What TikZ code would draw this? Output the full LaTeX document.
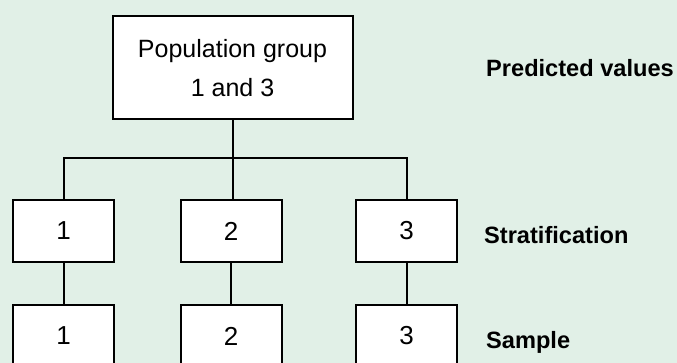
\documentclass[tikz,border=0pt]{standalone}
\usepackage{fontspec}
\setmainfont{Liberation Sans}
\definecolor{bg}{RGB}{225,240,231}
\begin{document}
\begin{tikzpicture}[x=1pt,y=-1pt,
  box/.style={draw=black, line width=2pt, fill=white, minimum width=101pt, minimum height=62pt, inner sep=0pt, font=\fontsize{26}{30}\selectfont},
  topbox/.style={draw=black, line width=2pt, fill=white, minimum width=240pt, minimum height=103pt, inner sep=0pt},
  boxtext/.style={anchor=base, inner sep=0pt, font=\fontsize{25}{30}\selectfont},
  lbl/.style={anchor=base west, inner sep=0pt, font=\fontsize{23.6}{28}\selectfont\bfseries},
  conn/.style={line width=2pt}]
\useasboundingbox (0,0) rectangle (677,363);
\clip (0,0) rectangle (677,363);
\fill[bg] (0,0) rectangle (677,363);
% top box
\node[topbox] (top) at (232.5,67.5) {};
\node[boxtext] (t1) at (232.5,58) {Population group};
\node[boxtext] (t2) at (232.5,97) {1 and 3};
% stratification row
\node[box] (s1) at (63.5,231) {1};
\node[box] (s2) at (231,231) {2};
\node[box] (s3) at (406.5,231) {3};
% sample row
\node[box] (a1) at (63.5,336) {1};
\node[box] (a2) at (231,336) {2};
\node[box] (a3) at (406.5,336) {3};
% connectors
\draw[conn] (top.south) -- (top.south |- s2.north);
\draw[conn] (s1.north) -- ++(0,-41) -| (s3.north);
\foreach \i in {1,2,3} \draw[conn] (s\i.south) -- (a\i.north);
% labels
\node[lbl] (lp) at (486,77) {Predicted values};
\node[lbl] (ls) at (484,244) {Stratification};
\node[lbl] (lsa) at (486,348) {Sample};
\end{tikzpicture}
\end{document}
